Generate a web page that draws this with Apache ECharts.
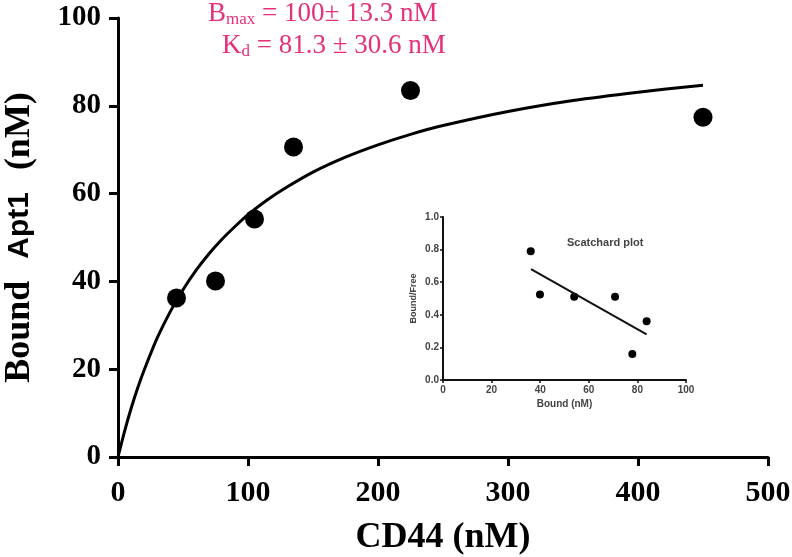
<!DOCTYPE html>
<html>
<head>
<meta charset="utf-8">
<script src="https://cdn.jsdelivr.net/npm/echarts@6/dist/echarts.min.js"></script>
<style>
  html, body { margin: 0; padding: 0; background: #fff; }
  #chart { width: 792px; height: 557px; }
</style>
</head>
<body>
<div id="chart"></div>
<script>
// saturation binding data (main plot)
const cd44 = [45, 75, 105, 135, 225, 450]
const boundApt1 = [36.2, 40.1, 54.2, 70.6, 83.5, 77.4]

// fitted hyperbola
const fitX = [0, 5, 10, 15, 20, 30, 40, 50, 60, 70, 80, 90, 100, 115, 130, 150, 175, 200, 225, 250, 300, 350, 400, 450]
const fitY = [0, 5.8, 11, 15.6, 19.7, 27, 33, 38.1, 42.5, 46.3, 49.6, 52.5, 55.2, 58.6, 61.5, 64.9, 68.3, 71.1, 73.5, 75.5, 78.7, 81.2, 83.1, 84.7]

// scatchard inset
const scBound = [36.1, 39.9, 54, 70.8, 77.9, 83.8]
const scRatio = [0.79, 0.525, 0.51, 0.51, 0.16, 0.36]
const scLineX = [36.2, 83.8]
const scLineY = [0.68, 0.28]

const xTicks = [0, 100, 200, 300, 400, 500]
const yTicks = [0, 20, 40, 60, 80, 100]

const serif = '"Liberation Serif", "Times New Roman", serif'
const sans = '"Liberation Sans", Arial, sans-serif'
const pink = '#e6307a'

const chart = echarts.init(document.getElementById('chart'))

const mainAxisLine = { show: true, onZero: false, lineStyle: { color: '#000', width: 3 } }
const insetAxisLine = { show: true, onZero: false, lineStyle: { color: '#111', width: 2 } }
const insetLabel = { color: '#444', fontFamily: sans, fontWeight: 'bold', fontSize: 10 }

const annoRich = {
  t: { fill: pink, fontFamily: serif, fontSize: 27, lineHeight: 30 },
  sub: { fill: pink, fontFamily: serif, fontSize: 17, lineHeight: 30, verticalAlign: 'bottom', padding: [10, 0, 0, 0] }
}

chart.setOption({
  animation: false,
  backgroundColor: '#fff',
  grid: [
    { left: 118, top: 18, width: 650, height: 439, outerBoundsMode: 'none', containLabel: false },
    { left: 443, top: 217, width: 243, height: 163, outerBoundsMode: 'none', containLabel: false }
  ],
  xAxis: [
    {
      gridIndex: 0, type: 'value', min: xTicks[0], max: xTicks[xTicks.length - 1], interval: 100,
      splitLine: { show: false },
      axisLine: mainAxisLine,
      axisTick: { show: true, length: 9, lineStyle: { width: 3, color: '#000' } },
      axisLabel: { color: '#000', fontFamily: serif, fontWeight: 'bold', fontSize: 30, margin: 21 },
      name: 'CD44 (nM)', nameLocation: 'middle', nameGap: 63,
      nameTextStyle: { color: '#000', fontFamily: serif, fontWeight: 'bold', fontSize: 36 }
    },
    {
      gridIndex: 1, type: 'value', min: 0, max: 100, interval: 20,
      splitLine: { show: false },
      axisLine: insetAxisLine,
      axisTick: { show: true, length: 3, lineStyle: { width: 1.5, color: '#111' } },
      axisLabel: Object.assign({ margin: 5 }, insetLabel),
      name: 'Bound (nM)', nameLocation: 'middle', nameGap: 19,
      nameTextStyle: insetLabel
    }
  ],
  yAxis: [
    {
      gridIndex: 0, type: 'value', min: yTicks[0], max: yTicks[yTicks.length - 1], interval: 20,
      splitLine: { show: false },
      axisLine: mainAxisLine,
      axisTick: { show: true, length: 9, lineStyle: { width: 3, color: '#000' } },
      axisLabel: { color: '#000', fontFamily: serif, fontWeight: 'bold', fontSize: 29, margin: 17 },
      name: '{s|Bound}{a|Apt1}{s|(nM)}', nameLocation: 'middle', nameGap: 80, nameRotate: 90,
      nameTextStyle: {
        rich: {
          s: { color: '#000', fontFamily: serif, fontWeight: 'bold', fontSize: 36 },
          a: { color: '#000', fontFamily: sans, fontWeight: 'bold', fontSize: 30, padding: [0, 22, 0, 22] }
        }
      }
    },
    {
      gridIndex: 1, type: 'value', min: 0, max: 1, interval: 0.2,
      splitLine: { show: false },
      axisLine: insetAxisLine,
      axisTick: { show: true, length: 3, lineStyle: { width: 1.5, color: '#111' } },
      axisLabel: Object.assign({ margin: 4, formatter: v => v.toFixed(1) }, insetLabel),
      name: 'Bound/Free', nameLocation: 'middle', nameGap: 25, nameRotate: 90,
      nameTextStyle: Object.assign({}, insetLabel, { fontSize: 9 })
    }
  ],
  series: [
    {
      type: 'line', xAxisIndex: 0, yAxisIndex: 0, smooth: 0.3, symbol: 'none',
      data: fitX.map((x, i) => [x, fitY[i]]),
      lineStyle: { color: '#000', width: 3 }
    },
    {
      type: 'scatter', xAxisIndex: 0, yAxisIndex: 0, symbolSize: 19,
      data: cd44.map((x, i) => [x, boundApt1[i]]),
      itemStyle: { color: '#000', opacity: 1 }
    },
    {
      type: 'line', xAxisIndex: 1, yAxisIndex: 1, symbol: 'none',
      data: scLineX.map((x, i) => [x, scLineY[i]]),
      lineStyle: { color: '#111', width: 2 }
    },
    {
      type: 'scatter', xAxisIndex: 1, yAxisIndex: 1, symbolSize: 8,
      data: scBound.map((x, i) => [x, scRatio[i]]),
      itemStyle: { color: '#000', opacity: 1 }
    }
  ],
  graphic: [
    {
      type: 'text', left: 208, top: 0,
      style: { text: '{t|B}{sub|max}{t| = 100\u00b1 13.3 nM}', rich: annoRich }
    },
    {
      type: 'text', left: 222, top: 32,
      style: { text: '{t|K}{sub|d}{t| = 81.3 \u00b1 30.6 nM}', rich: annoRich }
    },
    {
      type: 'text', left: 567, top: 237,
      style: { text: 'Scatchard plot', fill: '#444', fontFamily: sans, fontWeight: 'bold', fontSize: 11 }
    }
  ]
})
</script>
</body>
</html>
